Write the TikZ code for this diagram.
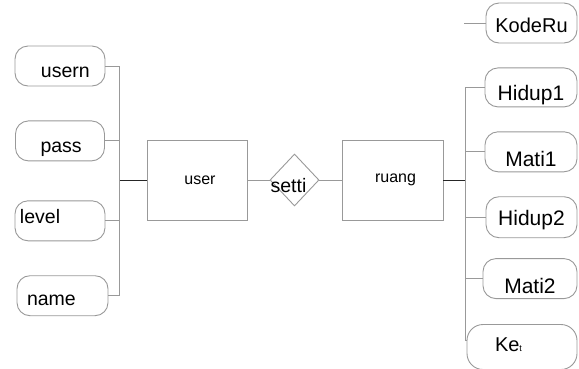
\documentclass[tikz,border=0pt]{standalone}
\usepackage{fontspec}
\setmainfont{Liberation Sans}
\usetikzlibrary{positioning, shapes.geometric}
\tikzset{
    erd_fs/.style={font=\fontsize{#1}{#1}\selectfont},
    erd_attr/.style={
        rectangle,
        rounded corners=13pt,
        draw=black!40,
        fill=white,
        line width=0.9pt,
        inner sep=0pt,
        minimum height=40pt,
        text width=91pt,
        text height=20pt,
        text depth=0pt,
        align=center,
        erd_fs=21pt
    },
    erd_attr_left/.style={
        erd_attr,
        align=left,
        erd_fs=19.5pt
    },
    erd_entity/.style={
        rectangle,
        draw=black!40,
        line width=0.9pt,
        minimum width=100pt,
        minimum height=80pt,
        erd_fs=16pt
    },
    erd_rel/.style={
        diamond,
        draw=black!40,
        line width=0.9pt,
        inner sep=0pt,
        minimum width=49pt,
        minimum height=52pt,
        erd_fs=19.5pt
    },
    erd_link/.style={
        draw=black!40,
        line width=0.9pt
    },
    erd_link_dark/.style={
        draw=black!85,
        line width=1pt
    }
}

\begin{document}
\begin{tikzpicture}[x=1pt, y=-1pt]
\useasboundingbox (0,0) rectangle (579,368);

% Entities and relation
\node[erd_entity] (user) at (197,180) {\hspace*{6pt}user};
\node[erd_rel, text height=24pt, text depth=0pt] (setti) at (294.5,180) {\makebox[0pt]{\hspace*{-12pt}setti}};
\node[erd_entity, minimum width=101pt] (ruang) at (392.5,180) {\hspace*{6pt}ruang};

% Attributes of user
\node[erd_attr_left, text width=90pt, text height=22pt] (usern) at (60,66) {\hspace*{26pt}usern};
\node[erd_attr_left, text width=89pt, text height=23pt, below=34pt of usern] (pass) {\hspace*{25pt}pass};
\node[erd_attr_left, text width=90pt, text height=6pt, below=39pt of pass] (level) {\hspace*{5pt}level};
\node[erd_attr_left, text width=91pt, below=34pt of level, xshift=2.5pt] (name) {\hspace*{10pt}name};

% Attributes of ruang
\node[erd_attr, text height=18pt, erd_fs=20pt] (KodeRu) at (531.5,23) {KodeRu};
\node[erd_attr, text width=92pt, minimum height=39pt, text height=26pt,
  below=24pt of KodeRu.south east, anchor=north east] (Hidup1) {Hidup1};
\node[erd_attr, text width=92pt, text height=30pt,
  below=24pt of Hidup1.south east, anchor=north east] (Mati1) {Mati1};
\node[erd_attr, minimum height=41pt, text height=17pt,
  below=24pt of Mati1.south east, anchor=north east] (Hidup2) {Hidup2};
\node[erd_attr, text width=94pt, text height=30pt,
  below=20pt of Hidup2.south east, anchor=north east] (Mati2) {Mati2};
\node[erd_attr_left, text width=110pt, minimum height=45pt, text height=9pt, erd_fs=20pt, rounded corners=16pt,
  below=25pt of Mati2.south east, anchor=north east] (Ket) {\hspace*{28pt}Ke{\fontsize{9pt}{9pt}\selectfont t}};

% Connectors
\coordinate (lbus) at (119,180);
\coordinate (rbus) at (465,180);
\coordinate (kode_end) at (464,23);

\draw[erd_link_dark] (lbus) -- (user);
\draw[erd_link] (user) -- (setti);
\draw[erd_link] (setti) -- (ruang);
\draw[erd_link_dark] (ruang) -- (rbus);
\draw[erd_link] (usern.east) -| (lbus);
\draw[erd_link] (pass.east) -| (lbus);
\draw[erd_link] (level.east) -| (lbus);
\draw[erd_link] (name.east) -| (lbus);
\draw[erd_link] (kode_end) -- (KodeRu.west);
\draw[erd_link] (Hidup1.west) -| (rbus);
\draw[erd_link] (Mati1.west) -| (rbus);
\draw[erd_link] (Hidup2.west) -| (rbus);
\draw[erd_link] (Mati2.west) -| (rbus);
\draw[erd_link] ([yshift=6.5pt]Ket.west) -| (rbus);

\end{tikzpicture}
\end{document}
